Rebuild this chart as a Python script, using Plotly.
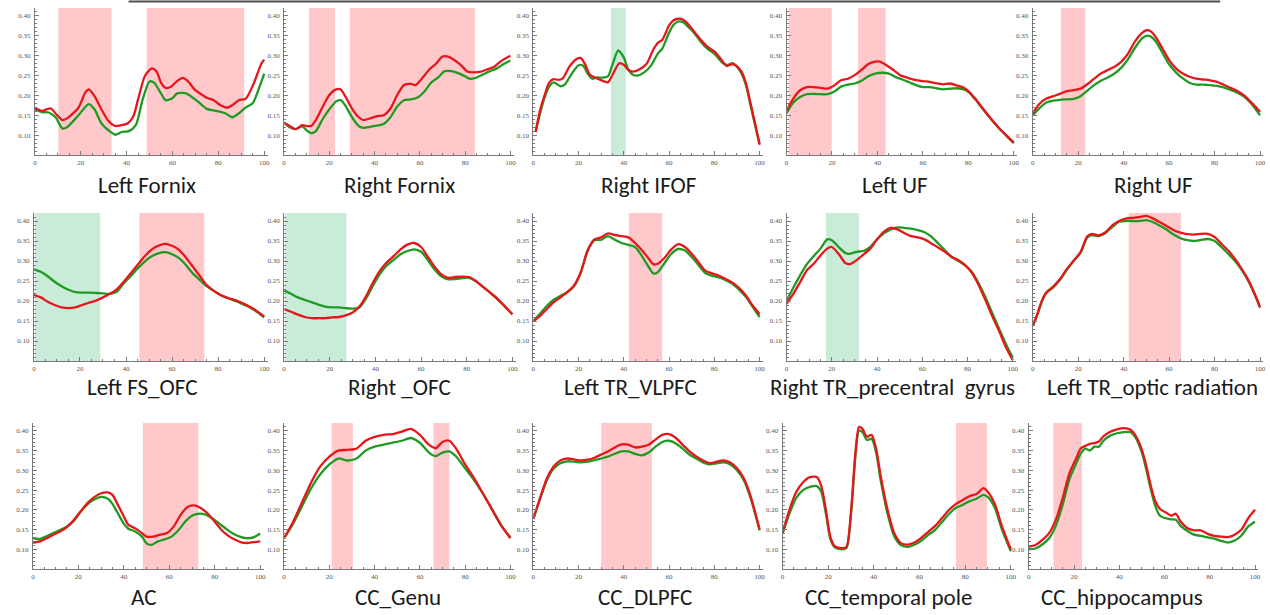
import plotly.graph_objects as go

W, H = 1270, 615
RED = "#e8161b"
GREEN = "#1f9a23"
PINK = "#ffc9cc"
MINT = "#c8ecd8"

Y_RANGE = [0.05, 0.42]
Y_TICKS = [0.10, 0.15, 0.20, 0.25, 0.30, 0.35, 0.40]
X_TICKS = [0, 20, 40, 60, 80, 100]

TITLES = ["Left Fornix", "Right Fornix", "Right IFOF", "Left UF", "Right UF",
          "Left FS_OFC", "Right _OFC", "Left TR_VLPFC", "Right TR_precentral  gyrus", "Left TR_optic radiation",
          "AC", "CC_Genu", "CC_DLPFC", "CC_temporal pole", "CC_hippocampus"]

# ---------------- Left Fornix ----------------
LF_X_RED = [0, 3, 5, 7, 9.4, 12, 14.5, 19, 22, 23.5, 26, 29, 32, 35, 37.7, 40.6, 43, 45, 48, 51, 53, 55, 57, 59.4, 62,
            64.5, 66.7, 69.6, 72.5, 75, 78, 81, 84, 86, 89, 92, 95.6, 98.6, 100]
LF_RED = [0.169, 0.161, 0.165, 0.167, 0.152, 0.138, 0.144, 0.169, 0.207, 0.215, 0.198, 0.165, 0.136, 0.123, 0.125,
          0.130, 0.148, 0.190, 0.249, 0.268, 0.261, 0.232, 0.219, 0.222, 0.236, 0.244, 0.236, 0.215, 0.203, 0.194,
          0.188, 0.175, 0.169, 0.175, 0.188, 0.192, 0.232, 0.278, 0.290]
LF_X_GREEN = [0, 3, 6, 9, 12, 14, 19, 23.5, 26, 29, 33, 35, 38, 41, 44, 47, 50, 52, 55, 57, 60, 62, 66, 68, 71, 75, 80,
              83, 86, 89, 92, 95, 98, 100]
LF_GREEN = [0.165, 0.158, 0.157, 0.145, 0.117, 0.120, 0.150, 0.178, 0.165, 0.130, 0.108, 0.101, 0.108, 0.110, 0.125,
            0.190, 0.235, 0.232, 0.205, 0.188, 0.193, 0.205, 0.205, 0.198, 0.185, 0.166, 0.160, 0.155, 0.145, 0.155,
            0.170, 0.180, 0.222, 0.255]
LF_PINK = [(10.2, 33.4), (48.7, 91.3)]

# ---------------- Right Fornix ----------------
RF_X_RED = [0, 2.5, 5, 8, 10, 12, 14, 17, 20, 23, 25, 27, 30, 33, 35, 38, 41, 44, 47, 50, 53, 56, 58, 61, 64, 67, 70,
            72, 75, 78, 81, 84, 87, 90, 93, 96, 100]
RF_RED = [0.131, 0.123, 0.115, 0.125, 0.123, 0.123, 0.138, 0.171, 0.201, 0.215, 0.215, 0.198, 0.167, 0.145, 0.138,
          0.142, 0.148, 0.150, 0.167, 0.201, 0.226, 0.229, 0.226, 0.243, 0.264, 0.279, 0.298, 0.298, 0.290, 0.277,
          0.260, 0.258, 0.260, 0.266, 0.273, 0.287, 0.300]
RF_X_GREEN = [0, 2.5, 5, 8, 10, 12, 14, 17, 20, 23, 25, 27, 30, 33, 35, 38, 41, 44, 47, 50, 53, 56, 59, 62, 65, 68, 71,
              74, 77, 80, 82, 85, 88, 91, 94, 97, 100]
RF_GREEN = [0.131, 0.120, 0.115, 0.122, 0.112, 0.105, 0.110, 0.140, 0.165, 0.185, 0.188, 0.175, 0.145, 0.123, 0.118,
            0.121, 0.124, 0.128, 0.145, 0.172, 0.188, 0.190, 0.195, 0.210, 0.232, 0.245, 0.261, 0.261, 0.256, 0.248,
            0.242, 0.245, 0.253, 0.261, 0.268, 0.279, 0.288]
RF_PINK = [(11.0, 22.5), (29.0, 84.3)]

# ---------------- Right IFOF ----------------
RI_X_RED = [1, 3, 5, 7, 9, 11, 13, 16, 19, 21, 23, 25, 28, 31, 33, 35, 38, 40, 42, 44, 47, 50, 53, 55, 57, 60, 62, 64,
            66, 68, 71, 74, 77, 80, 82, 84, 85.5, 88, 90, 92, 94, 96, 98, 100]
RI_RED = [0.108, 0.163, 0.201, 0.232, 0.241, 0.239, 0.243, 0.273, 0.291, 0.294, 0.277, 0.252, 0.243, 0.236, 0.233,
          0.252, 0.281, 0.277, 0.264, 0.260, 0.266, 0.279, 0.315, 0.332, 0.340, 0.376, 0.389, 0.393, 0.391, 0.382,
          0.361, 0.340, 0.322, 0.311, 0.298, 0.283, 0.274, 0.279, 0.273, 0.260, 0.230, 0.180, 0.129, 0.076]
RI_X_GREEN = [1, 3, 5, 7, 9, 12, 14, 17, 20, 22, 24, 26, 28, 31, 33, 35, 37.5, 40, 42, 44, 46, 49, 52, 55, 57, 60, 62,
              64, 66, 68, 71, 74, 77, 80, 82, 84, 86, 88, 90, 92, 94, 96, 98, 100]
RI_GREEN = [0.108, 0.155, 0.195, 0.222, 0.233, 0.223, 0.228, 0.255, 0.276, 0.275, 0.255, 0.242, 0.245, 0.245, 0.248,
            0.278, 0.313, 0.295, 0.265, 0.252, 0.250, 0.258, 0.275, 0.305, 0.318, 0.358, 0.378, 0.386, 0.385, 0.375,
            0.358, 0.335, 0.317, 0.305, 0.292, 0.280, 0.277, 0.281, 0.272, 0.255, 0.225, 0.175, 0.125, 0.078]
RI_MINT = [(34.3, 40.9)]

# ---------------- Left UF ----------------
LU_X_RED = [0, 3, 6, 9, 12, 15, 18, 21, 24, 27, 30, 33, 36, 39, 41, 44, 47, 50, 53, 56, 60, 63, 66, 69, 72, 75, 78, 80,
            83, 86, 90, 94, 97, 100]
LU_RED = [0.162, 0.192, 0.213, 0.221, 0.221, 0.219, 0.217, 0.225, 0.238, 0.242, 0.251, 0.264, 0.279, 0.285, 0.285,
          0.276, 0.264, 0.251, 0.245, 0.240, 0.236, 0.234, 0.230, 0.228, 0.230, 0.225, 0.219, 0.211, 0.192, 0.170,
          0.141, 0.115, 0.098, 0.081]
LU_X_GREEN = [0, 3, 6, 9, 12, 15, 18, 21, 24, 27, 30, 33, 36, 39, 42, 45, 48, 51, 54, 57, 60, 63, 66, 69, 72, 75, 78,
              80, 83, 86, 90, 94, 97, 100]
LU_GREEN = [0.155, 0.182, 0.196, 0.203, 0.204, 0.203, 0.203, 0.210, 0.222, 0.227, 0.230, 0.237, 0.248, 0.255, 0.257,
            0.255, 0.246, 0.240, 0.233, 0.226, 0.221, 0.221, 0.218, 0.215, 0.217, 0.218, 0.215, 0.209, 0.190, 0.168,
            0.140, 0.114, 0.097, 0.080]
LU_PINK = [(0.9, 19.9), (31.5, 43.6)]

# ---------------- Right UF ----------------
RU_X = [0, 3, 6, 9, 12, 15, 18, 21, 24, 27, 30, 33, 36, 39, 42, 45, 48, 50, 52, 54, 57, 60, 63, 66, 69, 72, 75, 78, 81,
        84, 87, 90, 93, 96, 100]
RU_RED = [0.155, 0.179, 0.192, 0.198, 0.204, 0.211, 0.213, 0.217, 0.228, 0.242, 0.255, 0.264, 0.272, 0.285, 0.306,
          0.336, 0.357, 0.364, 0.361, 0.348, 0.319, 0.289, 0.268, 0.255, 0.247, 0.242, 0.240, 0.238, 0.234, 0.227,
          0.219, 0.211, 0.200, 0.183, 0.159]
RU_GREEN = [0.150, 0.168, 0.182, 0.187, 0.189, 0.190, 0.191, 0.198, 0.212, 0.226, 0.237, 0.245, 0.255, 0.270, 0.292,
            0.320, 0.343, 0.350, 0.348, 0.337, 0.308, 0.278, 0.258, 0.243, 0.232, 0.227, 0.227, 0.226, 0.224, 0.220,
            0.214, 0.207, 0.197, 0.180, 0.150]
RU_PINK = [(12.4, 23.1)]

# ---------------- Left FS_OFC ----------------
LO_X = [0, 3, 6, 9, 12, 15, 18, 21, 24, 27, 30, 33, 36, 39, 42, 45, 48, 51, 54, 57, 60, 63, 66, 69, 72, 75, 78, 81, 84,
        87, 90, 93, 96, 100]
LO_RED = [0.215, 0.209, 0.198, 0.190, 0.184, 0.182, 0.184, 0.190, 0.196, 0.201, 0.209, 0.218, 0.229, 0.248, 0.269,
          0.290, 0.311, 0.328, 0.338, 0.343, 0.338, 0.328, 0.309, 0.286, 0.263, 0.240, 0.226, 0.215, 0.208, 0.203,
          0.196, 0.188, 0.178, 0.161]
LO_GREEN = [0.279, 0.273, 0.262, 0.248, 0.237, 0.228, 0.222, 0.221, 0.221, 0.220, 0.219, 0.218, 0.223, 0.244, 0.262,
            0.281, 0.298, 0.311, 0.319, 0.322, 0.317, 0.307, 0.290, 0.269, 0.253, 0.237, 0.226, 0.215, 0.208, 0.201,
            0.194, 0.186, 0.176, 0.159]
LO_MINT = [(0.4, 28.8)]
LO_PINK = [(45.8, 74.0)]

# ---------------- Right _OFC ----------------
RO_X = [0, 3, 6, 9, 12, 15, 18, 21, 24, 27, 30, 33, 36, 39, 42, 45, 48, 51, 54, 57, 60, 63, 66, 69, 72, 75, 78, 81, 84,
        87, 90, 93, 96, 100]
RO_RED = [0.180, 0.173, 0.166, 0.160, 0.157, 0.157, 0.157, 0.159, 0.160, 0.164, 0.171, 0.186, 0.213, 0.247, 0.276,
          0.297, 0.312, 0.329, 0.341, 0.345, 0.335, 0.310, 0.285, 0.266, 0.258, 0.260, 0.261, 0.260, 0.250, 0.236,
          0.222, 0.208, 0.191, 0.167]
RO_GREEN = [0.226, 0.218, 0.209, 0.203, 0.197, 0.191, 0.186, 0.184, 0.184, 0.182, 0.181, 0.184, 0.207, 0.239, 0.268,
            0.289, 0.303, 0.317, 0.325, 0.329, 0.323, 0.302, 0.278, 0.261, 0.254, 0.255, 0.257, 0.258, 0.249, 0.236,
            0.222, 0.207, 0.190, 0.167]
RO_MINT = [(0.4, 27.3)]

# ---------------- Left TR_VLPFC ----------------
LV_X = [0, 3, 6, 9, 12, 15, 18, 21, 24, 27, 30, 33, 36, 39, 42, 45, 48, 51, 53, 55, 58, 61, 64, 67, 70, 73, 76, 79, 82,
        85, 88, 91, 94, 97, 100]
LV_RED = [0.150, 0.163, 0.180, 0.197, 0.209, 0.222, 0.239, 0.272, 0.327, 0.354, 0.359, 0.369, 0.365, 0.362, 0.359,
          0.345, 0.327, 0.306, 0.292, 0.293, 0.308, 0.329, 0.342, 0.335, 0.318, 0.297, 0.276, 0.269, 0.263, 0.255,
          0.246, 0.232, 0.213, 0.188, 0.167]
LV_GREEN = [0.150, 0.168, 0.188, 0.203, 0.213, 0.222, 0.237, 0.272, 0.325, 0.352, 0.353, 0.362, 0.353, 0.345, 0.340,
            0.335, 0.312, 0.285, 0.269, 0.272, 0.295, 0.318, 0.330, 0.326, 0.310, 0.290, 0.270, 0.263, 0.259, 0.252,
            0.243, 0.228, 0.210, 0.185, 0.160]
LV_PINK = [(42.2, 56.9)]

# ---------------- Right TR_precentral gyrus ----------------
RP_X = [0, 3, 6, 9, 12, 15, 18, 20, 23, 26, 28, 31, 34, 37, 40, 43, 46, 49, 52, 55, 58, 61, 64, 67, 70, 73, 76, 79, 82,
        85, 88, 91, 94, 97, 100]
RP_RED = [0.193, 0.218, 0.247, 0.277, 0.293, 0.314, 0.331, 0.335, 0.318, 0.295, 0.292, 0.302, 0.316, 0.331, 0.354,
          0.373, 0.383, 0.379, 0.370, 0.362, 0.359, 0.354, 0.344, 0.334, 0.323, 0.310, 0.302, 0.289, 0.270, 0.239,
          0.201, 0.161, 0.124, 0.084, 0.052]
RP_GREEN = [0.201, 0.233, 0.264, 0.292, 0.312, 0.331, 0.354, 0.352, 0.335, 0.320, 0.318, 0.323, 0.325, 0.335, 0.354,
            0.369, 0.379, 0.384, 0.383, 0.381, 0.377, 0.372, 0.361, 0.344, 0.327, 0.310, 0.300, 0.289, 0.272, 0.243,
            0.208, 0.169, 0.130, 0.092, 0.058]
RP_MINT = [(17.4, 32.0)]

# ---------------- Left TR_optic radiation ----------------
LR_X = [0, 2, 4, 6, 9, 12, 15, 18, 21, 24, 26, 29, 32, 35, 38, 41, 44, 47, 50, 53, 56, 59, 62, 65, 68, 71, 74, 77, 80,
        83, 86, 89, 92, 95, 98, 100]
LR_RED = [0.138, 0.167, 0.201, 0.222, 0.236, 0.255, 0.280, 0.301, 0.322, 0.362, 0.368, 0.364, 0.372, 0.389, 0.400,
          0.406, 0.408, 0.410, 0.413, 0.406, 0.397, 0.387, 0.377, 0.371, 0.367, 0.366, 0.368, 0.368, 0.360, 0.343,
          0.326, 0.305, 0.280, 0.251, 0.213, 0.184]
LR_GREEN = [0.138, 0.165, 0.198, 0.220, 0.234, 0.253, 0.278, 0.300, 0.320, 0.359, 0.365, 0.362, 0.370, 0.385, 0.398,
            0.400, 0.400, 0.400, 0.402, 0.397, 0.388, 0.378, 0.366, 0.357, 0.352, 0.350, 0.353, 0.355, 0.350, 0.335,
            0.318, 0.300, 0.277, 0.248, 0.212, 0.184]
LR_PINK = [(42.2, 65.2)]

# ---------------- AC ----------------
AC_X_RED = [0, 3, 6, 9, 12, 15, 18, 21, 24, 27, 30, 33, 35, 37, 40, 42, 45, 48, 50, 53, 56, 59, 62, 65, 68, 71, 74, 77,
            80, 83, 86, 89, 92, 95, 97, 100]
AC_RED = [0.117, 0.120, 0.128, 0.137, 0.145, 0.156, 0.174, 0.196, 0.217, 0.232, 0.242, 0.244, 0.238, 0.217, 0.183,
          0.162, 0.153, 0.141, 0.132, 0.132, 0.137, 0.141, 0.158, 0.187, 0.207, 0.211, 0.204, 0.190, 0.170, 0.149,
          0.134, 0.124, 0.117, 0.116, 0.118, 0.120]
AC_X_GREEN = [0, 3, 6, 9, 12, 15, 18, 21, 24, 27, 30, 33, 35, 37, 40, 42, 45, 48, 50, 52, 55, 58, 61, 64, 67, 70, 73,
              76, 79, 82, 85, 88, 91, 94, 97, 100]
AC_GREEN = [0.128, 0.126, 0.133, 0.141, 0.149, 0.158, 0.172, 0.195, 0.214, 0.226, 0.233, 0.228, 0.215, 0.195, 0.165,
            0.152, 0.145, 0.132, 0.115, 0.111, 0.120, 0.125, 0.132, 0.148, 0.170, 0.185, 0.190, 0.188, 0.178, 0.165,
            0.152, 0.140, 0.132, 0.128, 0.130, 0.140]
AC_PINK = [(48.4, 72.8)]

# ---------------- CC_Genu ----------------
CG_X = [0, 4, 8, 12, 16, 20, 24, 28, 32, 36, 40, 44, 48, 52, 56, 60, 64, 67, 70, 73, 76, 80, 84, 88, 92, 96, 100]
CG_RED = [0.128, 0.170, 0.220, 0.270, 0.310, 0.335, 0.350, 0.352, 0.355, 0.375, 0.385, 0.390, 0.392, 0.398, 0.405,
          0.390, 0.365, 0.356, 0.372, 0.375, 0.355, 0.315, 0.280, 0.240, 0.200, 0.160, 0.128]
CG_GREEN = [0.128, 0.165, 0.210, 0.255, 0.290, 0.315, 0.330, 0.325, 0.330, 0.350, 0.360, 0.365, 0.370, 0.375, 0.382,
            0.370, 0.345, 0.336, 0.345, 0.348, 0.335, 0.305, 0.275, 0.240, 0.200, 0.160, 0.130]
CG_PINK = [(21.0, 30.4), (66.0, 73.0)]

# ---------------- CC_DLPFC ----------------
CD_X = [0, 3, 6, 9, 12, 15, 18, 21, 24, 27, 30, 33, 36, 39, 42, 45, 48, 51, 54, 57, 60, 63, 66, 69, 72, 75, 78, 81, 84,
        87, 90, 93, 96, 100]
CD_RED = [0.177, 0.230, 0.280, 0.310, 0.325, 0.330, 0.328, 0.325, 0.327, 0.332, 0.340, 0.348, 0.358, 0.366, 0.365,
          0.358, 0.360, 0.365, 0.378, 0.390, 0.392, 0.382, 0.365, 0.348, 0.335, 0.325, 0.318, 0.322, 0.325, 0.320,
          0.305, 0.280, 0.235, 0.150]
CD_GREEN = [0.177, 0.228, 0.275, 0.305, 0.318, 0.323, 0.322, 0.320, 0.322, 0.326, 0.330, 0.335, 0.342, 0.348, 0.348,
            0.342, 0.338, 0.345, 0.360, 0.372, 0.375, 0.368, 0.355, 0.340, 0.330, 0.320, 0.315, 0.318, 0.320, 0.315,
            0.300, 0.275, 0.230, 0.148]
CD_PINK = [(30.0, 52.4)]

# ---------------- CC_temporal pole ----------------
CT_X = [0, 3, 6, 9, 12, 15, 17, 19, 21, 23, 26, 28, 30, 32, 33.5, 35, 37, 39, 41, 43, 46, 49, 52, 55, 58, 61, 64, 67,
        70, 73, 76, 79, 82, 85, 88, 90, 93, 96, 100]
CT_RED = [0.140, 0.200, 0.245, 0.270, 0.283, 0.283, 0.260, 0.200, 0.130, 0.107, 0.103, 0.106, 0.195, 0.350, 0.410,
          0.405, 0.385, 0.390, 0.355, 0.285, 0.200, 0.140, 0.115, 0.112, 0.118, 0.130, 0.145, 0.160, 0.180, 0.200,
          0.215, 0.225, 0.235, 0.240, 0.255, 0.245, 0.215, 0.160, 0.100]
CT_GREEN = [0.140, 0.190, 0.230, 0.250, 0.258, 0.260, 0.245, 0.190, 0.125, 0.104, 0.100, 0.103, 0.190, 0.340, 0.400,
            0.397, 0.377, 0.380, 0.345, 0.275, 0.190, 0.132, 0.110, 0.106, 0.112, 0.123, 0.137, 0.150, 0.170, 0.190,
            0.205, 0.213, 0.222, 0.228, 0.238, 0.232, 0.205, 0.152, 0.095]
CT_PINK = [(76.0, 89.5)]

# ---------------- CC_hippocampus ----------------
CH_X = [0, 3, 6, 9, 12, 15, 18, 21, 23, 25, 27, 29, 31, 33, 36, 39, 42, 45, 47, 50, 52, 54, 56, 58, 61, 63, 65, 67, 70,
        73, 76, 79, 82, 85, 88, 91, 94, 97, 100]
CH_RED = [0.107, 0.111, 0.124, 0.141, 0.175, 0.230, 0.293, 0.331, 0.356, 0.362, 0.367, 0.369, 0.373, 0.386, 0.398,
          0.404, 0.407, 0.403, 0.390, 0.352, 0.310, 0.259, 0.221, 0.202, 0.192, 0.185, 0.190, 0.171, 0.154, 0.148,
          0.148, 0.139, 0.134, 0.132, 0.131, 0.137, 0.150, 0.179, 0.200]
CH_GREEN = [0.100, 0.102, 0.112, 0.128, 0.160, 0.213, 0.278, 0.318, 0.343, 0.355, 0.350, 0.360, 0.360, 0.375, 0.388,
            0.394, 0.397, 0.397, 0.385, 0.345, 0.300, 0.250, 0.208, 0.185, 0.178, 0.176, 0.175, 0.160, 0.147, 0.137,
            0.134, 0.130, 0.127, 0.121, 0.117, 0.122, 0.135, 0.158, 0.170]
CH_PINK = [(10.9, 23.5)]

PANELS = [
    dict(xr=LF_X_RED, red=LF_RED, xg=LF_X_GREEN, green=LF_GREEN, pink=LF_PINK, mint=[]),
    dict(xr=RF_X_RED, red=RF_RED, xg=RF_X_GREEN, green=RF_GREEN, pink=RF_PINK, mint=[]),
    dict(xr=RI_X_RED, red=RI_RED, xg=RI_X_GREEN, green=RI_GREEN, pink=[], mint=RI_MINT),
    dict(xr=LU_X_RED, red=LU_RED, xg=LU_X_GREEN, green=LU_GREEN, pink=LU_PINK, mint=[]),
    dict(xr=RU_X, red=RU_RED, xg=RU_X, green=RU_GREEN, pink=RU_PINK, mint=[]),
    dict(xr=LO_X, red=LO_RED, xg=LO_X, green=LO_GREEN, pink=LO_PINK, mint=LO_MINT),
    dict(xr=RO_X, red=RO_RED, xg=RO_X, green=RO_GREEN, pink=[], mint=RO_MINT),
    dict(xr=LV_X, red=LV_RED, xg=LV_X, green=LV_GREEN, pink=LV_PINK, mint=[]),
    dict(xr=RP_X, red=RP_RED, xg=RP_X, green=RP_GREEN, pink=[], mint=RP_MINT),
    dict(xr=LR_X, red=LR_RED, xg=LR_X, green=LR_GREEN, pink=LR_PINK, mint=[]),
    dict(xr=AC_X_RED, red=AC_RED, xg=AC_X_GREEN, green=AC_GREEN, pink=AC_PINK, mint=[]),
    dict(xr=CG_X, red=CG_RED, xg=CG_X, green=CG_GREEN, pink=CG_PINK, mint=[]),
    dict(xr=CD_X, red=CD_RED, xg=CD_X, green=CD_GREEN, pink=CD_PINK, mint=[]),
    dict(xr=CT_X, red=CT_RED, xg=CT_X, green=CT_GREEN, pink=CT_PINK, mint=[]),
    dict(xr=CH_X, red=CH_RED, xg=CH_X, green=CH_GREEN, pink=CH_PINK, mint=[]),
]

# layout geometry (pixels): plot-area boxes for x=0..100 and y=0.05..0.42
ROWS_PX = [(8, 155), (213, 361), (423, 569)]
COLS_PX = [
    [(33, 263), (283, 510), (533, 760), (787, 1015), (1034, 1262)],
    [(32, 263), (283, 512), (533, 760), (787, 1014), (1034, 1262)],
    [(31, 259), (283, 510), (533, 760), (783, 1012), (1030, 1257)],
]
TITLE_POS = [
    [(145, 185), (399, 185), (649, 185), (896, 185), (1155, 185)],
    [(140, 387), (399, 387), (630, 387), (893, 387), (1154, 387)],
    [(142, 597), (397, 597), (645, 597), (889, 597), (1124, 597)],
]
X_MAX = 101.5

AXIS_COLOR = "#7a7a7a"
TICK_FONT = dict(family="Liberation Serif, DejaVu Serif, serif", size=7, color="#555555")

fig = go.Figure()
layout_axes = {}
annotations = []
shapes = []

for i, p in enumerate(PANELS):
    r, c = divmod(i, 5)
    sfx = "" if i == 0 else str(i + 1)
    x0px, x100px = COLS_PX[r][c]
    x1px = x0px + (x100px - x0px) * X_MAX / 100.0
    ytop, ybot = ROWS_PX[r]
    layout_axes["xaxis" + sfx] = dict(
        domain=[x0px / W, x1px / W], anchor="y" + sfx, range=[0, X_MAX],
        showgrid=False, zeroline=False, showline=True, linecolor=AXIS_COLOR, linewidth=1,
        tickmode="array", tickvals=X_TICKS, ticks="inside", ticklen=4, tickcolor=AXIS_COLOR,
        tickfont=TICK_FONT, ticklabelstandoff=1,
        minor=dict(tickmode="array", tickvals=[v for v in range(0, 101, 5) if v % 20], ticks="inside",
                   ticklen=2, tickcolor=AXIS_COLOR),
        fixedrange=True,
    )
    layout_axes["yaxis" + sfx] = dict(
        domain=[1 - ybot / H, 1 - ytop / H], anchor="x" + sfx, range=Y_RANGE,
        showgrid=False, zeroline=False, showline=True, linecolor=AXIS_COLOR, linewidth=1,
        tickmode="array", tickvals=Y_TICKS, ticktext=[f"{v:.2f}" for v in Y_TICKS],
        ticks="inside", ticklen=4, tickcolor=AXIS_COLOR, tickfont=TICK_FONT, ticklabelstandoff=2,
        minor=dict(tickmode="array", tickvals=[round(0.06 + 0.01 * k, 2) for k in range(36)
                                               if round((0.06 + 0.01 * k) * 100) % 5],
                   ticks="inside", ticklen=2, tickcolor=AXIS_COLOR),
        fixedrange=True,
    )
    for (a, b) in p["pink"]:
        shapes.append(dict(type="rect", xref="x" + sfx, yref="y" + sfx + " domain", x0=a, x1=b, y0=0, y1=1,
                           fillcolor=PINK, line=dict(width=0), layer="below"))
    for (a, b) in p["mint"]:
        shapes.append(dict(type="rect", xref="x" + sfx, yref="y" + sfx + " domain", x0=a, x1=b, y0=0, y1=1,
                           fillcolor=MINT, line=dict(width=0), layer="below"))
    fig.add_trace(go.Scatter(x=p["xg"], y=p["green"], xaxis="x" + sfx, yaxis="y" + sfx, mode="lines",
                             line=dict(color=GREEN, width=2.3, shape="spline", smoothing=0.7),
                             showlegend=False, hoverinfo="skip"))
    fig.add_trace(go.Scatter(x=p["xr"], y=p["red"], xaxis="x" + sfx, yaxis="y" + sfx, mode="lines",
                             line=dict(color=RED, width=2.3, shape="spline", smoothing=0.7),
                             showlegend=False, hoverinfo="skip"))
    tx, ty = TITLE_POS[r][c]
    annotations.append(dict(text=TITLES[i], xref="paper", yref="paper", x=tx / W, y=1 - ty / H,
                            xanchor="center", yanchor="middle", showarrow=False,
                            font=dict(family="Carlito, Lato, sans-serif", size=23, color="#1a1a1a")))

# thin dark rule along the top edge of the figure
shapes.append(dict(type="line", xref="paper", yref="paper", x0=127 / W, x1=1222 / W, y0=1 - 1.5 / H, y1=1 - 1.5 / H,
                   line=dict(color="#505050", width=2)))

fig.update_layout(
    width=W, height=H, margin=dict(l=0, r=0, t=0, b=0),
    paper_bgcolor="white", plot_bgcolor="white",
    shapes=shapes, annotations=annotations, showlegend=False,
    **layout_axes,
)

fig.write_html("out.html", config=dict(displayModeBar=False))
